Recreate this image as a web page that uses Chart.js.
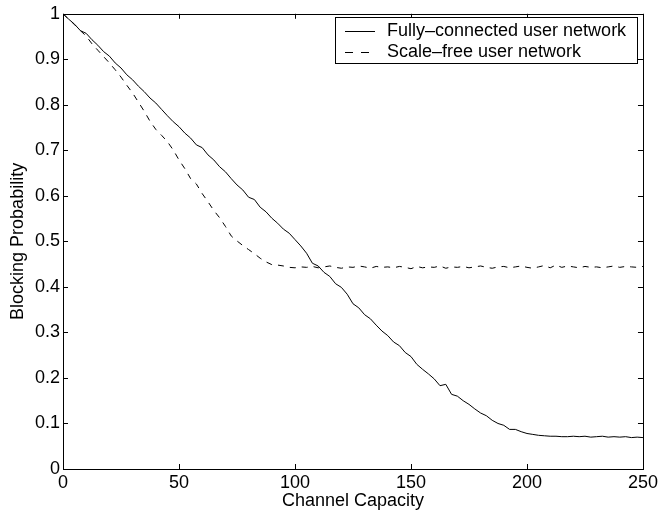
<!DOCTYPE html>
<html>
<head>
<meta charset="utf-8">
<script src="https://cdn.jsdelivr.net/npm/chart.js@4.4.0/dist/chart.umd.min.js"></script>
<style>
  html, body { margin: 0; padding: 0; background: #fff; }
  #wrap { width: 661px; height: 512px; }
</style>
</head>
<body>
<div id="wrap"><canvas id="blockingChart" width="661" height="512"></canvas></div>
<script>
// --- data ---
const capacity = [
  0, 2.5, 5, 7.5, 10, 12.5, 15, 17.5, 20, 22.5,
  25, 27.5, 30, 32.5, 35, 37.5, 40, 42.5, 45, 47.5,
  50, 52.5, 55, 57.5, 60, 62.5, 65, 67.5, 70, 72.5,
  75, 77.5, 80, 82.5, 85, 87.5, 90, 92.5, 95, 97.5,
  100, 102.5, 105, 107.5, 110, 112.5, 115, 117.5, 120, 122.5,
  125, 127.5, 130, 132.5, 135, 137.5, 140, 142.5, 145, 147.5,
  150, 152.5, 155, 157.5, 160, 162.5, 165, 167.5, 170, 172.5,
  175, 177.5, 180, 182.5, 185, 187.5, 190, 192.5, 195, 197.5,
  200, 202.5, 205, 207.5, 210, 212.5, 215, 217.5, 220, 222.5,
  225, 227.5, 230, 232.5, 235, 237.5, 240, 242.5, 245, 247.5,
  250
];

const fullyConnected = [
  1.000, 0.988, 0.977, 0.963, 0.957, 0.943, 0.931, 0.917, 0.907, 0.892,
  0.881, 0.866, 0.855, 0.841, 0.829, 0.815, 0.804, 0.790, 0.776, 0.763,
  0.752, 0.738, 0.727, 0.712, 0.706, 0.690, 0.679, 0.664, 0.653, 0.638,
  0.624, 0.613, 0.597, 0.592, 0.575, 0.565, 0.551, 0.540, 0.527, 0.518,
  0.504, 0.490, 0.474, 0.452, 0.446, 0.432, 0.423, 0.407, 0.399, 0.384,
  0.363, 0.354, 0.339, 0.330, 0.316, 0.303, 0.293, 0.279, 0.271, 0.256,
  0.247, 0.230, 0.219, 0.209, 0.198, 0.183, 0.186, 0.164, 0.160, 0.150,
  0.142, 0.132, 0.123, 0.117, 0.107, 0.100, 0.096, 0.087, 0.087, 0.082,
  0.078, 0.076, 0.074, 0.073, 0.072, 0.072, 0.071, 0.071, 0.072, 0.071,
  0.072, 0.070, 0.071, 0.072, 0.070, 0.071, 0.070, 0.071, 0.069, 0.070,
  0.069
];

const scaleFree = [
  1.000, 0.988, 0.976, 0.963, 0.951, 0.934, 0.920, 0.906, 0.892, 0.877,
  0.861, 0.843, 0.826, 0.806, 0.786, 0.764, 0.746, 0.733, 0.719, 0.701,
  0.679, 0.660, 0.638, 0.626, 0.605, 0.587, 0.568, 0.552, 0.533, 0.512,
  0.501, 0.491, 0.482, 0.473, 0.463, 0.455, 0.449, 0.448, 0.446, 0.443,
  0.442, 0.444, 0.443, 0.445, 0.442, 0.444, 0.446, 0.443, 0.441, 0.444,
  0.443, 0.446, 0.444, 0.441, 0.445, 0.443, 0.444, 0.442, 0.445, 0.443,
  0.440, 0.445, 0.442, 0.444, 0.443, 0.446, 0.441, 0.444, 0.443, 0.445,
  0.442, 0.444, 0.446, 0.443, 0.441, 0.444, 0.445, 0.442, 0.444, 0.446,
  0.443, 0.441, 0.444, 0.447, 0.442, 0.448, 0.443, 0.446, 0.444, 0.442,
  0.445, 0.443, 0.444, 0.442, 0.444, 0.446, 0.443, 0.445, 0.444, 0.443,
  0.445
];

const seriesLabels = ["Fully\u2013connected user network", "Scale\u2013free user network"];
const xTitle = "Channel Capacity";
const yTitle = "Blocking Probability";

const FONT = "'Liberation Sans', Arial, Helvetica, sans-serif";

// --- MATLAB-like box with inward ticks on all four sides ---
const boxTicks = {
  id: "boxTicks",
  afterDatasetsDraw(chart) {
    const { ctx, chartArea: a, scales } = chart;
    const len = 5;
    ctx.save();
    ctx.strokeStyle = "#000";
    ctx.lineWidth = 1;
    ctx.beginPath();
    scales.x.ticks.forEach(t => {
      const px = Math.round(scales.x.getPixelForValue(t.value)) + 0.5;
      ctx.moveTo(px, a.bottom); ctx.lineTo(px, a.bottom - len);
      ctx.moveTo(px, a.top); ctx.lineTo(px, a.top + len);
    });
    scales.y.ticks.forEach(t => {
      const py = Math.round(scales.y.getPixelForValue(t.value)) + 0.5;
      ctx.moveTo(a.left, py); ctx.lineTo(a.left + len, py);
      ctx.moveTo(a.right, py); ctx.lineTo(a.right - len, py);
    });
    ctx.stroke();
    ctx.strokeRect(Math.round(a.left) + 0.5, Math.round(a.top) + 0.5,
                   Math.round(a.right - a.left), Math.round(a.bottom - a.top));
    ctx.restore();
  }
};

// --- legend box in the top right corner, like the original ---
const boxLegend = {
  id: "boxLegend",
  afterDraw(chart) {
    const { ctx } = chart;
    const x0 = 335, y0 = 17, w = 302, h = 46;
    ctx.save();
    ctx.fillStyle = "#fff";
    ctx.fillRect(x0, y0, w, h);
    ctx.strokeStyle = "#000";
    ctx.lineWidth = 1;
    ctx.strokeRect(x0 + 0.5, y0 + 0.5, w, h);
    ctx.font = "18px " + FONT;
    ctx.textBaseline = "middle";
    ctx.fillStyle = "#000";
    chart.data.datasets.forEach((ds, i) => {
      const yy = y0 + 14 + i * 21;
      ctx.beginPath();
      ctx.setLineDash(ds.borderDash && ds.borderDash.length ? [8, 8] : []);
      ctx.moveTo(345, Math.round(yy) + 0.5);
      ctx.lineTo(375, Math.round(yy) + 0.5);
      ctx.stroke();
      ctx.setLineDash([]);
      ctx.fillText(ds.label, 387, yy);
    });
    ctx.restore();
  }
};

const ctx = document.getElementById("blockingChart");

new Chart(ctx, {
  type: "line",
  data: {
    datasets: [
      {
        label: seriesLabels[0],
        data: capacity.map((c, i) => ({ x: c, y: fullyConnected[i] })),
        borderColor: "#000",
        borderWidth: 1,
        pointRadius: 0,
        tension: 0,
        fill: false
      },
      {
        label: seriesLabels[1],
        data: capacity.map((c, i) => ({ x: c, y: scaleFree[i] })),
        borderColor: "#000",
        borderWidth: 1,
        borderDash: [6, 6],
        pointRadius: 0,
        tension: 0,
        fill: false
      }
    ]
  },
  options: {
    responsive: false,
    animation: false,
    events: [],
    layout: { padding: { left: 0, right: 17, top: 12, bottom: 0 } },
    plugins: {
      legend: { display: false },
      tooltip: { enabled: false }
    },
    scales: {
      x: {
        type: "linear",
        min: 0,
        max: 250,
        grid: { display: false, drawTicks: false },
        border: { display: false },
        ticks: {
          stepSize: 50,
          padding: 3,
          color: "#000",
          font: { family: FONT, size: 18 },
          maxRotation: 0
        },
        title: {
          display: true,
          text: xTitle,
          color: "#000",
          font: { family: FONT, size: 18 },
          padding: { top: 0, bottom: 0 }
        },
        afterFit: (scale) => { scale.height = 43; }
      },
      y: {
        type: "linear",
        min: 0,
        max: 1,
        grid: { display: false, drawTicks: false },
        border: { display: false },
        ticks: {
          stepSize: 0.1,
          padding: 3,
          color: "#000",
          font: { family: FONT, size: 18 },
          callback: (v) => String(Number(v.toFixed(1)))
        },
        title: {
          display: true,
          text: yTitle,
          color: "#000",
          font: { family: FONT, size: 18 },
          padding: { top: 7, bottom: 0 }
        },
        afterFit: (scale) => { scale.width = 63; }
      }
    }
  },
  plugins: [boxTicks, boxLegend]
});
</script>
</body>
</html>
